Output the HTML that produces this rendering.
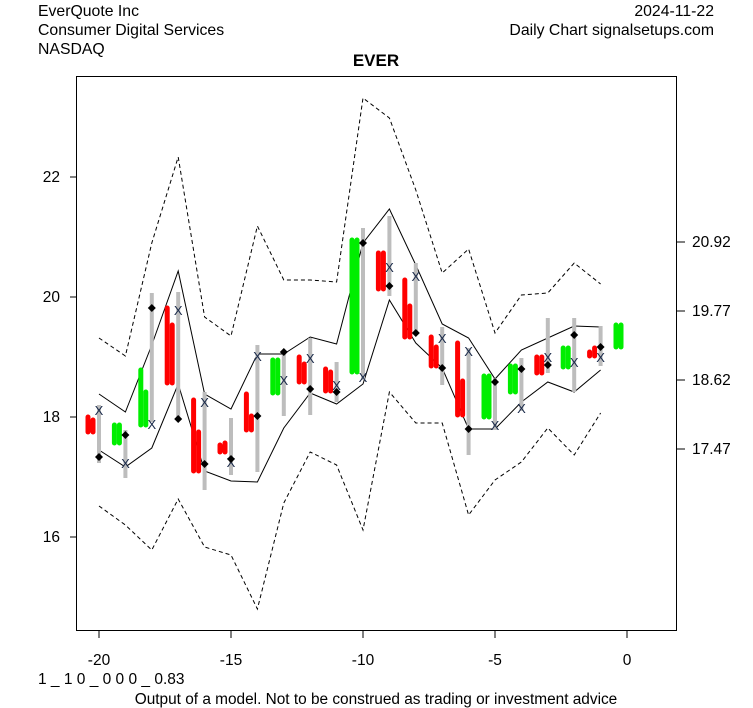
<!DOCTYPE html>
<html><head><meta charset="utf-8"><style>
html,body{margin:0;padding:0;background:#fff;}
svg{display:block;font-family:"Liberation Sans",Arial,sans-serif;}
</style></head><body>
<svg id="s" width="753" height="708" xmlns="http://www.w3.org/2000/svg">
<rect width="753" height="708" fill="#fff"/>
<text x="38" y="16" font-size="15.8">EverQuote Inc</text>
<text x="38" y="35" font-size="15.8">Consumer Digital Services</text>
<text x="38" y="54" font-size="15.8">NASDAQ</text>
<text x="714" y="16" font-size="15.8" text-anchor="end">2024-11-22</text>
<text x="714" y="35" font-size="15.8" text-anchor="end">Daily Chart signalsetups.com</text>
<text x="376" y="66" font-size="17" font-weight="bold" text-anchor="middle">EVER</text>
<rect x="76.5" y="76.5" width="600" height="554" fill="none" stroke="#000" stroke-width="1"/>
<g font-size="15.5" text-anchor="end">
<text x="60" y="182">22</text><text x="60" y="302">20</text><text x="60" y="422">18</text><text x="60" y="542">16</text>
</g>
<g stroke="#000"><line x1="70" y1="177" x2="76" y2="177"/><line x1="70" y1="297" x2="76" y2="297"/><line x1="70" y1="417" x2="76" y2="417"/><line x1="70" y1="537" x2="76" y2="537"/>
<line x1="677" y1="242" x2="685" y2="242"/><line x1="677" y1="311" x2="685" y2="311"/><line x1="677" y1="380" x2="685" y2="380"/><line x1="677" y1="449" x2="685" y2="449"/>
<line x1="99" y1="631" x2="99" y2="638"/><line x1="231" y1="631" x2="231" y2="638"/><line x1="363" y1="631" x2="363" y2="638"/><line x1="495" y1="631" x2="495" y2="638"/><line x1="627" y1="631" x2="627" y2="638"/></g>
<g font-size="15.5"><text x="692" y="247">20.92</text><text x="692" y="316">19.77</text><text x="692" y="385">18.62</text><text x="692" y="454">17.47</text></g>
<g font-size="15.5" text-anchor="middle"><text x="99" y="665">-20</text><text x="231" y="665">-15</text><text x="363" y="665">-10</text><text x="495" y="665">-5</text><text x="627" y="665">0</text></g>
<text x="38" y="684" font-size="15.5">1 _ 1 0 _ 0 0 0 _ 0.83</text>
<text x="376" y="704" font-size="15.4" text-anchor="middle">Output of a model. Not to be construed as trading or investment advice</text>
<g id="g"></g>
</svg>
<script>
var g=document.getElementById('g'),NS='http://www.w3.org/2000/svg';
function X(i){return 627+26.4*i;}
function el(t,a){var e=document.createElementNS(NS,t);for(var k in a)e.setAttribute(k,a[k]);g.appendChild(e);return e;}
function line(ys,dash){var p=[];for(var j=0;j<ys.length;j++)p.push(X(-20+j)+','+ys[j]);el('polyline',{points:p.join(' '),fill:'none',stroke:'#000','stroke-width':1,'stroke-dasharray':dash?'4,3':'none'});}
line([338,356,243,157,317,336,226,280,280,282,98,118,190,273,249,333,295,293,263,284],1);
line([506,525,550,499,547,555,609,503,452,465,530,392,423,423,515,480,462,428,455,413],1);
line([394,412,345,271,394,409,354,354,337,344,243,209,265,324,338,379,350,338,326,327],0);
line([450,467,448,384,471,481,482,428,393,404,384,300,343,368,429,429,402,382,392,370],0);
var d=[
[-20,'r',417,432,420,405,463,410,457],
[-19,'g',425,443,425,430,478,463,435],
[-18,'g',370,425,392,293,422,424,308],
[-17,'r',308,383,325,292,420,310,419],
[-16,'r',400,471,432,392,490,402,464],
[-15,'r',445,452,443,418,475,462,459],
[-14,'r',394,430,416,345,472,356,416],
[-13,'g',360,393,360,352,416,380,352],
[-12,'r',357,382,364,338,415,358,389],
[-11,'r',369,391,372,362,402,385,392],
[-10,'g',240,372,240,228,380,377,243],
[-9,'r',253,289,253,216,296,267,286],
[-8,'r',280,337,306,263,335,276,333],
[-7,'r',337,366,347,327,385,338,368],
[-6,'r',343,415,381,348,455,351,429],
[-5,'g',376,417,376,378,430,425,382],
[-4,'g',366,392,366,358,411,408,369],
[-3,'r',357,373,357,318,373,357,365],
[-2,'g',348,367,348,318,392,362,335],
[-1,'r',352,356,348,326,366,357,347],
[0,'g',325,347,325,null,null,null,null]];
d.forEach(function(r){var x=X(r[0]),c=r[1]=='r'?'#ff0000':'#00ee00';
 if(r[5]!==null)el('line',{x1:x,y1:r[5],x2:x,y2:r[6],stroke:'#bdbdbd','stroke-width':4});
 el('line',{x1:x-11,y1:r[2],x2:x-11,y2:r[3],stroke:c,'stroke-width':5,'stroke-linecap':'round'});
 el('line',{x1:x-6,y1:r[4],x2:x-6,y2:r[3],stroke:c,'stroke-width':5,'stroke-linecap':'round'});
 if(r[7]!==null){var t=el('text',{x:x,y:r[7]+5,'font-size':13,'text-anchor':'middle',fill:'#1a2a4a'});t.textContent='X';
 el('polygon',{points:(x-4)+','+r[8]+' '+x+','+(r[8]-4)+' '+(x+4)+','+r[8]+' '+x+','+(r[8]+4),fill:'#000'});}
});
</script>
</body></html>
